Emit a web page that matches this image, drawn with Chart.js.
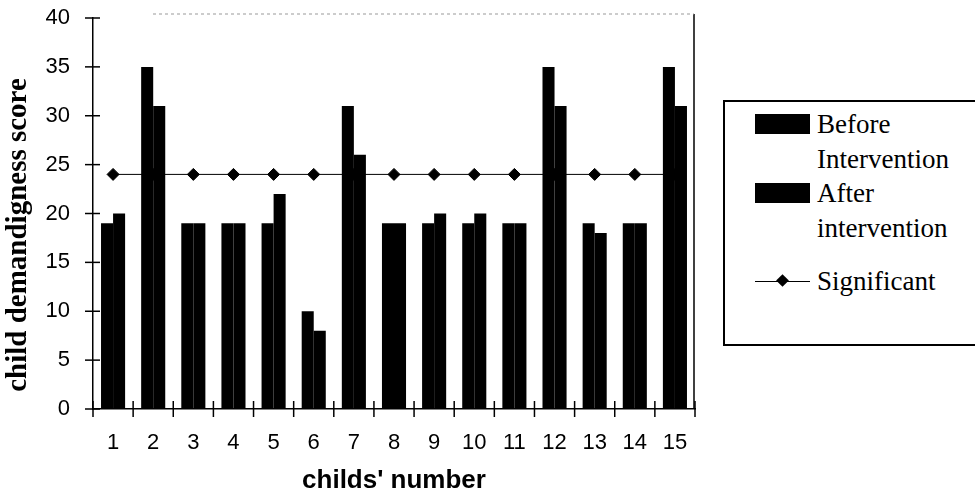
<!DOCTYPE html>
<html>
<head>
<meta charset="utf-8">
<script src="https://cdn.jsdelivr.net/npm/chart.js@4.4.1/dist/chart.umd.min.js"></script>
<style>
html,body{margin:0;padding:0;background:#fff;overflow:hidden;}
#wrap{position:relative;width:975px;height:502px;}
#legend{position:absolute;left:723px;top:100px;width:300px;height:246px;border:2px solid #000;box-sizing:border-box;font-family:"Liberation Serif","Times New Roman",serif;font-size:27px;color:#000;background:#fff;}
.item{position:absolute;left:30px;width:240px;}
.sw{position:absolute;left:0;top:7.5px;width:55px;height:20px;}
.ln{position:absolute;left:0;top:17px;width:55px;height:1.5px;background:#000;}
.dm{position:absolute;left:22.5px;top:12.5px;width:9px;height:9px;background:#000;transform:rotate(45deg);}
.tx{position:absolute;left:62px;width:150px;line-height:35px;white-space:normal;}
</style>
</head>
<body>
<div id="wrap">
<canvas id="c" width="975" height="502"></canvas>
<div id="legend"></div>
</div>
<script>
const categories = ['1','2','3','4','5','6','7','8','9','10','11','12','13','14','15'];
const beforeValues = [19, 35, 19, 19, 19, 10, 31, 19, 19, 19, 19, 35, 19, 19, 35];
const afterValues  = [20, 31, 19, 19, 22, 8, 26, 19, 20, 20, 19, 31, 18, 19, 31];
const significantValues = [24, 24, 24, 24, 24, 24, 24, 24, 24, 24, 24, 24, 24, 24, 24];
const seriesNames = ['Before Intervention', 'After intervention', 'Significant'];
const yTickValues = [0, 5, 10, 15, 20, 25, 30, 35, 40];
const xTitle = "childs' number";
const yTitle = 'child demandigness score';

const decor = {
  id: 'decor',
  afterDraw(chart) {
    const {ctx, chartArea: a, scales: {x, y}} = chart;
    ctx.save();
    ctx.strokeStyle = '#000';
    ctx.lineWidth = 1.5;
    y.ticks.forEach((t, i) => {
      const py = y.getPixelForTick(i);
      ctx.beginPath(); ctx.moveTo(a.left - 8, py); ctx.lineTo(a.left + 7, py); ctx.stroke();
    });
    for (let i = 0; i <= categories.length; i++) {
      const px = x.getPixelForValue(i - 0.5);
      ctx.beginPath(); ctx.moveTo(px, a.bottom - 8); ctx.lineTo(px, a.bottom + 8); ctx.stroke();
    }
    // plot area border (right solid, top faint dotted)
    ctx.beginPath(); ctx.moveTo(a.right - 1, a.top - 4); ctx.lineTo(a.right - 1, a.bottom); ctx.stroke();
    ctx.strokeStyle = '#9a9a9a'; ctx.lineWidth = 1; ctx.setLineDash([3, 3]);
    ctx.beginPath(); ctx.moveTo(a.left + 60, a.top - 4); ctx.lineTo(a.right - 1, a.top - 4); ctx.stroke();
    ctx.setLineDash([]);
    // y axis title
    ctx.fillStyle = '#000';
    ctx.font = 'bold 29px "Liberation Serif", "Times New Roman", serif';
    ctx.textAlign = 'center'; ctx.textBaseline = 'middle';
    ctx.translate(19, 235); ctx.rotate(-Math.PI / 2);
    ctx.fillText(yTitle, 0, 0);
    ctx.restore();
  }
};

const chart = new Chart(document.getElementById('c'), {
  type: 'bar',
  data: {
    labels: categories,
    datasets: [
      {type: 'line', label: seriesNames[2], data: significantValues, borderColor: '#000', backgroundColor: '#000', borderWidth: 1, pointStyle: 'rectRot', pointRadius: 6, pointBackgroundColor: '#000', pointBorderColor: '#000', order: 0},
      {label: seriesNames[0], data: beforeValues, backgroundColor: '#000', borderWidth: 0, categoryPercentage: 0.6, barPercentage: 1.0, order: 1},
      {label: seriesNames[1], data: afterValues, backgroundColor: '#000', borderWidth: 0, categoryPercentage: 0.6, barPercentage: 1.0, order: 1}
    ]
  },
  options: {
    responsive: false,
    animation: false,
    layout: {padding: {top: 0, right: 280, left: 0, bottom: 0}},
    plugins: {legend: {display: false}, tooltip: {enabled: false}},
    scales: {
      x: {
        offset: true,
        grid: {display: false, drawTicks: false},
        border: {display: true, color: '#000', width: 1.5},
        ticks: {color: '#000', font: {family: '"Liberation Sans", Arial, sans-serif', size: 22}, padding: 21, maxRotation: 0, autoSkip: false},
        title: {display: true, text: xTitle, color: '#000', font: {family: '"Liberation Sans", Arial, sans-serif', size: 26, weight: 'bold'}, padding: {top: 0, bottom: 6}},
        afterFit(s) { s.height = 93; }
      },
      y: {
        min: 0, max: 40,
        afterBuildTicks(s) { s.ticks = yTickValues.map(v => ({value: v})); },
        grid: {display: false, drawTicks: false},
        border: {display: true, color: '#000', width: 1.5},
        ticks: {color: '#000', font: {family: '"Liberation Sans", Arial, sans-serif', size: 22}, padding: 23},
        afterFit(s) { s.width = 93; s.paddingTop = 18; s.paddingBottom = 12; }
      }
    }
  },
  plugins: [decor]
});

// HTML legend built from the datasets
const legend = document.getElementById('legend');
const order = [1, 2, 0];
const tops = [4.5, 73.5, 161.5];
order.forEach((di, k) => {
  const ds = chart.data.datasets[di];
  const item = document.createElement('div');
  item.className = 'item';
  item.style.top = tops[k] + 'px';
  if (ds.type === 'line') {
    item.innerHTML = '<div class="ln"></div><div class="dm"></div>';
  } else {
    item.innerHTML = '<div class="sw" style="background:' + ds.backgroundColor + '"></div>';
  }
  const tx = document.createElement('div');
  tx.className = 'tx';
  tx.textContent = ds.label;
  item.appendChild(tx);
  legend.appendChild(item);
});
</script>
</body>
</html>
